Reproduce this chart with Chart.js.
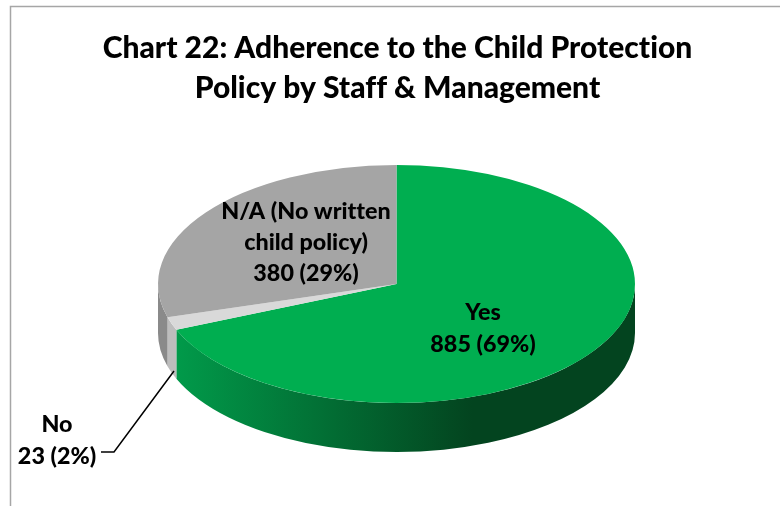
<!DOCTYPE html>
<html>
<head>
<meta charset="utf-8">
<title>Chart 22</title>
<script src="https://cdn.jsdelivr.net/npm/chart.js@4/dist/chart.umd.min.js"></script>
<style>
  html, body { margin: 0; padding: 0; background: #fff; overflow: hidden; }
  canvas { display: block; }
</style>
</head>
<body>
<canvas id="pie" width="780" height="506"></canvas>
<script>
const titleLines = ["Chart 22: Adherence to the Child Protection", "Policy by Staff & Management"];
const categories = ["Yes", "No", "N/A (No written child policy)"];
const values = [885, 23, 380];
const percents = [69, 2, 29];
const nameLines = [["Yes"], ["No"], ["N/A (No written", "child policy)"]];
const topColors = ["#00ae50", "#d9d9d9", "#a5a5a5"];

// pie shape on the page
const centerX = 396.5, centerY = 284, radiusX = 238.5, radiusY = 119, depth = 49;
const labelFont = "900 23.3px Lato";

// squashes the library's circle into the tilted ellipse
function tilt(ctx, arc) {
  ctx.translate(centerX, centerY);
  ctx.scale(radiusX / arc.outerRadius, radiusY / arc.outerRadius);
  ctx.translate(-arc.x, -arc.y);
}

function wallFill(ctx, i) {
  if (i === 1) return "#bdbdbd";
  if (i === 2) return "#8a8a8a";
  const g = ctx.createLinearGradient(176, 0, 472, 0);
  g.addColorStop(0, "#019a4a");
  g.addColorStop(1, "#03441f");
  return g;
}

const pie3d = {
  id: "pie3d",
  beforeDraw(chart) {
    // Calibri-like text has no tt/ti ligatures
    chart.ctx.textRendering = "optimizeSpeed";
  },
  beforeDatasetsDraw(chart) {
    const ctx = chart.ctx;
    const arcs = chart.getDatasetMeta(0).data;
    // side wall, only the front half of the rim shows
    arcs.forEach((arc, i) => {
      const from = Math.max(arc.startAngle, 0);
      const to = Math.min(arc.endAngle, Math.PI);
      if (to <= from) return;
      ctx.beginPath();
      ctx.ellipse(centerX, centerY, radiusX, radiusY, 0, from, to);
      ctx.ellipse(centerX, centerY + depth, radiusX, radiusY, 0, to, from, true);
      ctx.closePath();
      ctx.fillStyle = wallFill(ctx, i);
      ctx.fill();
    });
    ctx.save();
    tilt(ctx, arcs[0]);
  },
  afterDatasetsDraw(chart) {
    const ctx = chart.ctx;
    ctx.restore();

    // frame, cropped on the right and bottom
    ctx.strokeStyle = "#a6a6a6";
    ctx.lineWidth = 1.5;
    ctx.beginPath();
    ctx.moveTo(10.5, 506);
    ctx.lineTo(10.5, 6.5);
    ctx.lineTo(780, 6.5);
    ctx.stroke();

    // leader line for the small slice
    ctx.strokeStyle = "#000";
    ctx.lineWidth = 1.5;
    ctx.beginPath();
    ctx.moveTo(101, 452);
    ctx.lineTo(114, 452);
    ctx.lineTo(174, 371);
    ctx.stroke();

    // data labels
    const spots = [[483, 312], [57, 424], [306, 211]];
    ctx.font = labelFont;
    ctx.fillStyle = "#000";
    ctx.textAlign = "center";
    ctx.textBaseline = "middle";
    spots.forEach(([x, y], i) => {
      const lines = nameLines[i].concat(`${values[i]} (${percents[i]}%)`);
      lines.forEach((t, n) => ctx.fillText(t, x, y + n * (i === 2 ? 31 : 32)));
    });
  }
};

new Chart(document.getElementById("pie"), {
  type: "pie",
  plugins: [pie3d],
  data: {
    labels: categories,
    datasets: [{ data: values, backgroundColor: topColors, borderWidth: 0, clip: false }]
  },
  options: {
    responsive: false,
    animation: false,
    layout: { padding: { left: 15 } },
    plugins: {
      legend: { display: false },
      tooltip: { enabled: false },
      title: {
        display: true,
        text: titleLines,
        color: "#000",
        font: { family: "Lato", weight: "900", size: 30, lineHeight: 1.34 },
        padding: { top: 28, bottom: 10 }
      }
    }
  }
});
</script>
</body>
</html>
